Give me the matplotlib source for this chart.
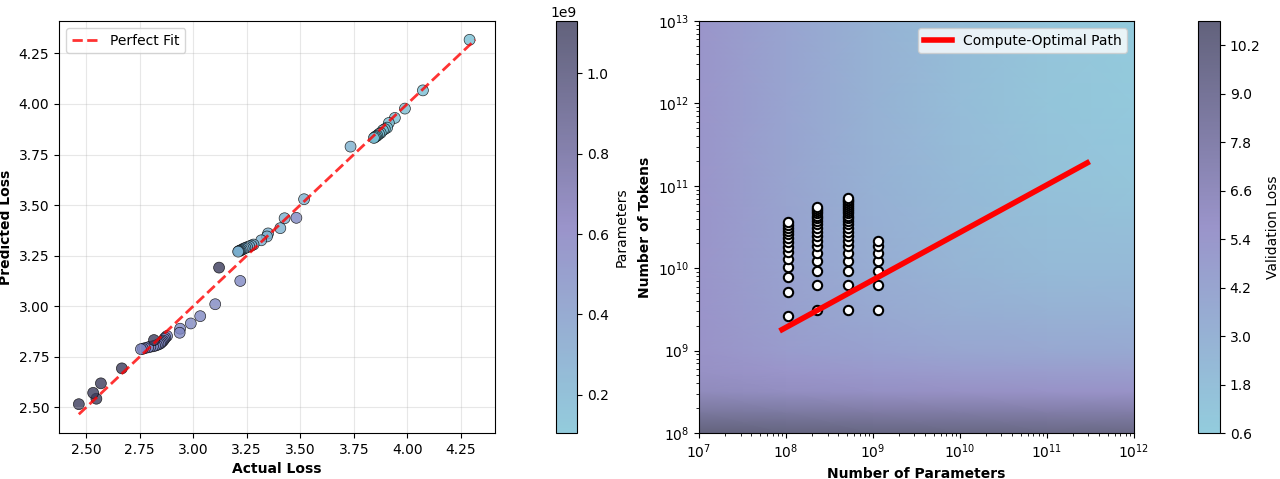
import numpy as np
import matplotlib
matplotlib.use('Agg')
import matplotlib.pyplot as plt
from matplotlib.colors import LinearSegmentedColormap, Normalize

# model sizes (parameters)
params = [1.05e8, 2.29e8, 5.14e8, 1.13e9]

# tokens seen at each checkpoint, per model
tokens_105m = [2.6e9, 5.2e9, 7.8e9, 1.04e10, 1.3e10, 1.56e10, 1.82e10, 2.08e10,
               2.34e10, 2.6e10, 2.86e10, 3.12e10, 3.38e10, 3.64e10]
tokens_229m = [3.1e9, 6.2e9, 9.3e9, 1.24e10, 1.55e10, 1.86e10, 2.17e10, 2.48e10,
               2.79e10, 3.1e10, 3.41e10, 3.72e10, 4.03e10, 4.34e10, 4.65e10, 4.96e10,
               5.27e10, 5.58e10]
tokens_514m = [3.1e9, 6.2e9, 9.3e9, 1.24e10, 1.55e10, 1.86e10, 2.17e10, 2.48e10,
               2.79e10, 3.1e10, 3.41e10, 3.72e10, 4.03e10, 4.34e10, 4.65e10, 4.96e10,
               5.27e10, 5.58e10, 5.89e10, 6.2e10, 6.51e10, 6.82e10, 7.13e10]
tokens_1130m = [3.1e9, 6.2e9, 9.3e9, 1.24e10, 1.55e10, 1.86e10, 2.17e10]

# actual / predicted loss per model
actual_105m = [4.291, 4.073, 3.989, 3.942, 3.914, 3.906, 3.895, 3.886, 3.876, 3.868,
               3.860, 3.854, 3.849, 3.844]
pred_105m = [4.317, 4.067, 3.977, 3.931, 3.906, 3.883, 3.876, 3.870, 3.857, 3.852,
             3.844, 3.840, 3.836, 3.832]
actual_229m = [3.735, 3.518, 3.427, 3.407, 3.350, 3.345, 3.318, 3.282, 3.272, 3.262,
               3.252, 3.244, 3.236, 3.229, 3.222, 3.217, 3.213, 3.210]
pred_229m = [3.789, 3.529, 3.435, 3.386, 3.360, 3.345, 3.326, 3.305, 3.300, 3.296,
             3.292, 3.288, 3.285, 3.280, 3.277, 3.274, 3.272, 3.270]
actual_514m = [3.482, 3.220, 3.103, 3.033, 2.989, 2.939, 2.937, 2.878, 2.870, 2.865,
               2.860, 2.855, 2.850, 2.845, 2.838, 2.830, 2.822, 2.812, 2.800, 2.790,
               2.775, 2.765, 2.756]
pred_514m = [3.437, 3.125, 3.010, 2.951, 2.915, 2.889, 2.869, 2.853, 2.845, 2.838,
             2.830, 2.825, 2.820, 2.815, 2.812, 2.808, 2.805, 2.802, 2.800, 2.797,
             2.793, 2.790, 2.788]
actual_1130m = [3.121, 2.817, 2.667, 2.569, 2.548, 2.533, 2.466]
pred_1130m = [3.191, 2.833, 2.693, 2.619, 2.543, 2.572, 2.516]

# compute-optimal path endpoints
path_params = [9e7, 2.9e11]
path_tokens = [1.8e9, 1.9e11]

# validation loss surface (rows: log10 tokens, cols: log10 params)
grid_log_params = [7, 8, 9, 10, 11, 12]
grid_log_tokens = [8, 8.25, 8.5, 8.75, 9, 9.5, 10, 11, 12, 13]
grid_loss = [
    [10.8, 10.6, 10.4, 10.3, 10.2, 10.2],
    [8.6, 8.4, 8.2, 8.1, 8.0, 8.0],
    [6.6, 6.3, 6.1, 6.0, 5.9, 5.9],
    [6.0, 5.6, 5.3, 5.0, 4.9, 4.8],
    [5.8, 5.0, 4.5, 4.1, 3.9, 3.8],
    [5.7, 4.6, 3.8, 3.3, 3.0, 2.9],
    [5.6, 4.4, 3.4, 2.7, 2.3, 2.2],
    [5.6, 4.3, 3.1, 2.2, 1.6, 1.3],
    [5.6, 4.2, 3.0, 2.0, 1.3, 0.9],
    [5.6, 4.2, 3.0, 2.0, 1.2, 0.7],
]
loss_ticks = [0.6, 1.8, 3.0, 4.2, 5.4, 6.6, 7.8, 9.0, 10.2]

cmap = LinearSegmentedColormap.from_list('sky_purple', ['#78BFD4', '#8179BD', '#3B3B5B'])
# same ramp already faded onto white, for the opaque background
cmap_bg = LinearSegmentedColormap.from_list('sky_purple_bg', ['#93CCDD', '#9A94CA', '#62627C'])

tokens_all = [tokens_105m, tokens_229m, tokens_514m, tokens_1130m]
actual_all = [actual_105m, actual_229m, actual_514m, actual_1130m]
pred_all = [pred_105m, pred_229m, pred_514m, pred_1130m]

actual = np.concatenate(actual_all)
pred = np.concatenate(pred_all)
point_params = np.concatenate([[p] * len(a) for p, a in zip(params, actual_all)])

fig = plt.figure(figsize=(12.8, 4.79), dpi=100)
ax1 = fig.add_axes([0.0461, 0.096, 0.3406, 0.860])
cax1 = fig.add_axes([0.4344, 0.096, 0.0164, 0.860])
ax2 = fig.add_axes([0.5461, 0.096, 0.3398, 0.860])
cax2 = fig.add_axes([0.9359, 0.096, 0.0172, 0.860])

# left: predicted vs actual
sc = ax1.scatter(actual, pred, c=point_params, cmap=cmap, s=62, alpha=0.8,
                 edgecolors='black', linewidths=0.5)
lo = min(actual.min(), pred.min())
hi = max(actual.max(), pred.max())
ax1.plot([lo, hi], [lo, hi], 'r--', lw=2, alpha=0.8, label='Perfect Fit')
ax1.set_xlabel('Actual Loss', fontweight='bold')
ax1.set_ylabel('Predicted Loss', fontweight='bold')
ax1.legend(loc='upper left')
ax1.grid(True, alpha=0.3)
cb1 = fig.colorbar(sc, cax=cax1)
cb1.set_label('Parameters')

# right: loss landscape
X, Y = np.meshgrid(10.0 ** np.array(grid_log_params), 10.0 ** np.array(grid_log_tokens))
mesh = ax2.pcolormesh(X, Y, np.array(grid_loss), shading='gouraud', cmap=cmap_bg,
                      norm=Normalize(0.6, 10.8), rasterized=True)
for p, t in zip(params, tokens_all):
    ax2.scatter([p] * len(t), t, s=45, c='white', edgecolors='black', linewidths=1.5, zorder=3)
ax2.plot(path_params, path_tokens, color='red', lw=4, label='Compute-Optimal Path', zorder=4)
ax2.set_xscale('log')
ax2.set_yscale('log')
ax2.set_xlim(1e7, 1e12)
ax2.set_ylim(1e8, 1e13)
ax2.set_xlabel('Number of Parameters', fontweight='bold')
ax2.set_ylabel('Number of Tokens', fontweight='bold')
ax2.legend(loc='upper right')
cb2 = fig.colorbar(mesh, cax=cax2, ticks=loss_ticks)
cb2.set_label('Validation Loss')

fig.savefig('out.png', dpi=100)
